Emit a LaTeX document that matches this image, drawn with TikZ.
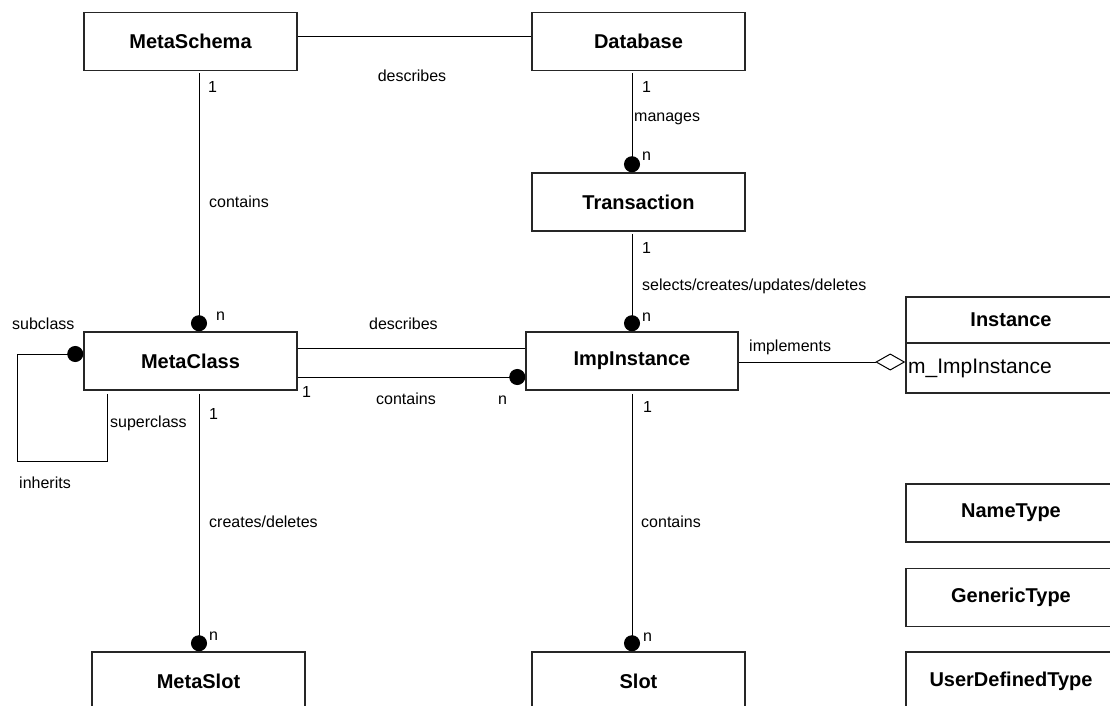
\documentclass[tikz,border=0pt]{standalone}
\usepackage{fontspec}
\setmainfont{Liberation Sans}
\usetikzlibrary{arrows.meta,calc}

\tikzset{
  clsbox/.style={draw=black!85, line width=1.5pt, minimum width=213pt,
    minimum height=58pt, inner sep=0pt, font=\fontsize{20}{24}\selectfont\bfseries},
  lbl/.style={font=\fontsize{16}{19}\selectfont, inner sep=0pt, anchor=west},
  assoc/.style={line width=1pt},
  many/.style={assoc, -{Circle[length=16pt]}},
  aggr/.style={assoc, -{Diamond[open, length=30pt, width=17pt]}},
}

\begin{document}
\begin{tikzpicture}[x=1pt, y=-1pt]
	\useasboundingbox (0,0) rectangle (1110,706);
	\clip (0,0) rectangle (1110,706);
	% columns of the vertical associations
	\coordinate (colL) at (199,0);
	\coordinate (colR) at (632,0);
	\coordinate (loopL) at (17,461);

	% classes
	\node[clsbox] (MetaSchema) at (190.5,41.5) {MetaSchema};
	\node[clsbox] (Database) at (638.5,41.5) {Database};
	\node[clsbox] (Transaction) at (638.5,202) {Transaction};
	\node[clsbox] (MetaClass) at (190.5,361) {MetaClass};
	\node[clsbox, minimum width=212pt] (ImpInstance) at (632,361) {ImpInstance};
	\node[clsbox] (MetaSlot) at (198.5,681) {MetaSlot};
	\node[clsbox] (Slot) at (638.5,681) {Slot};
	\node[clsbox, minimum width=210pt] (NameType) at (1011,513) {NameType};
	\node[clsbox, minimum width=210pt] (GenericType) at (1011,597.5) {GenericType};
	\node[clsbox, minimum width=210pt] (UserDefinedType) at (1011,681) {UserDefinedType};

	% Instance with one attribute
	\node[clsbox, minimum width=210pt, minimum height=96pt] (InstanceBox) at (1011,345) {};
	\node[font=\fontsize{20}{24}\selectfont\bfseries, inner sep=0pt] (InstanceTitle) at (1011,320) {Instance};
	\draw[line width=1.5pt, black!85]
		(InstanceBox.west |- 0,343) -- (InstanceBox.east |- 0,343);
	\node[font=\fontsize{21}{25}\selectfont, inner sep=0pt, anchor=west] (InstanceAttr) at (908,368) {m\_ImpInstance};

	% associations
	\draw[assoc]
		([yshift=4.5pt]MetaSchema.east) -- ([yshift=4.5pt]Database.west);
	\draw[many]
		([yshift=-2pt]MetaSchema.south -| colL) -- (MetaClass.north -| colL);
	\draw[many]
		([yshift=-2pt]Database.south -| colR) -- (Transaction.north -| colR);
	\draw[many]
		([yshift=-2pt]Transaction.south -| colR) -- (ImpInstance.north -| colR);
	\draw[assoc]
		(MetaClass.east |- 0,348) -- (ImpInstance.west |- 0,348);
	\draw[many]
		(MetaClass.east |- 0,377) -- (ImpInstance.west |- 0,377);
	\draw[many]
		([yshift=-3pt]MetaClass.south -| 107,0) |- (loopL) |- (MetaClass.west |- 0,354);
	\draw[many]
		([yshift=-3pt]MetaClass.south -| colL) -- (MetaSlot.north -| colL);
	\draw[many]
		([yshift=-3pt]ImpInstance.south -| colR) -- (Slot.north -| colR);
	\draw[aggr]
		(ImpInstance.east |- 0,362) -- (InstanceBox.west |- 0,362);

	% labels
	\node[lbl, anchor=center] (descTop) at (412,76) {describes};
	\node[lbl] (msOne) at (208,87) {1};
	\node[lbl] (msContains) at (209,202) {contains};
	\node[lbl] (msMany) at (216,316) {n};
	\node[lbl] (dbOne) at (642,87) {1};
	\node[lbl] (dbManages) at (634,119) {manages};
	\node[lbl] (dbMany) at (642,156) {n};
	\node[lbl] (trOne) at (642,248) {1};
	\node[lbl] (trSelects) at (642,286) {selects/creates/updates/deletes};
	\node[lbl] (trMany) at (642,317) {n};
	\node[lbl] (mcDescribes) at (369,324) {describes};
	\node[lbl] (mcContains) at (376,399) {contains};
	\node[lbl] (mcOne) at (302,392) {1};
	\node[lbl] (mcMany) at (498,400) {n};
	\node[lbl] (subLbl) at (12,324) {subclass};
	\node[lbl] (superLbl) at (110,423) {superclass};
	\node[lbl] (inhLbl) at (19,483) {inherits};
	\node[lbl] (slOne) at (209,414) {1};
	\node[lbl] (slCreates) at (209,522) {creates/deletes};
	\node[lbl] (slMany) at (209,636) {n};
	\node[lbl] (siOne) at (643,407) {1};
	\node[lbl] (siContains) at (641,522) {contains};
	\node[lbl] (siMany) at (643,637) {n};
	\node[lbl] (implLbl) at (749,347) {implements};
\end{tikzpicture}
\end{document}
